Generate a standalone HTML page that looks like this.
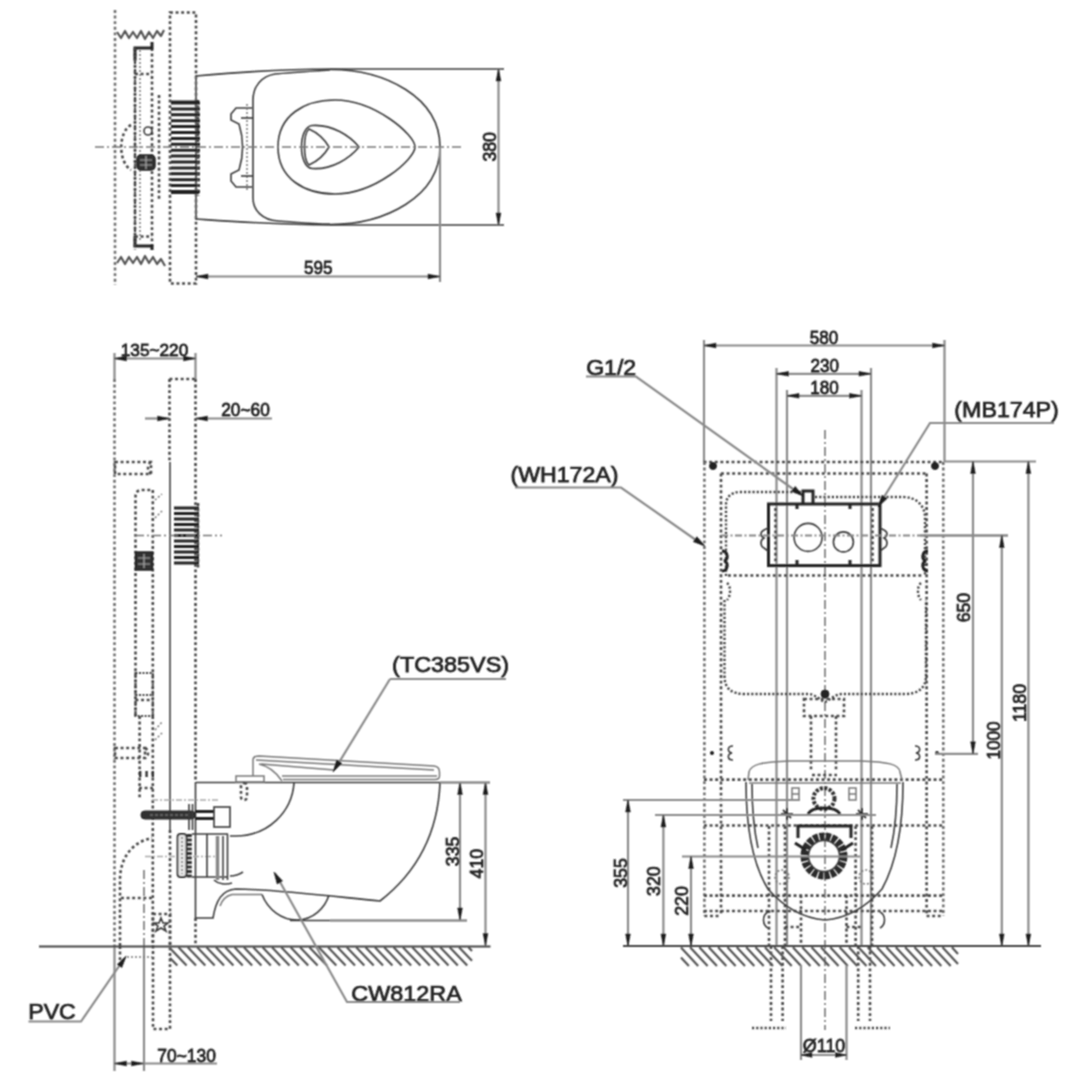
<!DOCTYPE html>
<html><head><meta charset="utf-8"><style>
html,body{margin:0;padding:0;background:#fff;}
svg{display:block;}
.k{fill:none;stroke:#3a3a3a;stroke-width:1.6;}
.k2{fill:none;stroke:#444;stroke-width:2;}
.kb{fill:#222;stroke:#222;stroke-width:1;}
.kb2{fill:#e8e8e8;stroke:#333;stroke-width:1.8;}
.sg{fill:none;stroke:#777;stroke-width:1.5;}
.blt{fill:#333;stroke:#222;stroke-width:1;}
.dk{fill:none;stroke:#333;stroke-width:5;stroke-dasharray:3 1.5;}
.dk2{fill:none;stroke:#444;stroke-width:2.2;stroke-dasharray:2 1.5;}
.dk3{fill:none;stroke:#333;stroke-width:1.8;}
.g3{fill:none;stroke:#888;stroke-width:3.5;}
.kw2{fill:none;stroke:#888;stroke-width:1.2;stroke-dasharray:3 2;}
.kb3{fill:none;stroke:#222;stroke-width:3;}
.g{fill:none;stroke:#8a8a8a;stroke-width:2.2;}
.g2{fill:none;stroke:#666;stroke-width:2;}
.dt{fill:none;stroke:#484848;stroke-width:2.6;stroke-dasharray:2.9 2.7;}
.dtL{fill:none;stroke:#707070;stroke-width:2.6;stroke-dasharray:2.9 2.7;}
.ctm{fill:none;stroke:#888;stroke-width:2;stroke-dasharray:7 2.5 2 2.5;}
.blk2{fill:#333;stroke:none;}
.zz{fill:none;stroke:#555;stroke-width:2.2;stroke-linejoin:round;}
.dt2{fill:none;stroke:#444;stroke-width:2.4;stroke-dasharray:2.2 2;}
.dtl{fill:none;stroke:#777;stroke-width:1.5;stroke-dasharray:2 2;}
.ct{fill:none;stroke:#777;stroke-width:1.6;stroke-dasharray:9 3 2 3;}
.ctl{fill:none;stroke:#aaa;stroke-width:1.3;stroke-dasharray:6 2 2 2;}
.gr{fill:none;stroke:#222;stroke-width:3;}
.h{fill:none;stroke:#555;stroke-width:2.2;}
.ar{fill:#1a1a1a;stroke:#1a1a1a;stroke-width:0.6;}
.ring{fill:none;stroke:#2a2a2a;stroke-width:8;stroke-dasharray:5 1.2;}
.blk{fill:#333;stroke:#222;stroke-width:1.5;}
.kw{fill:none;stroke:#aaa;stroke-width:1.2;}
.ring2{fill:none;stroke:#333;stroke-width:4;stroke-dasharray:3 1.5;}
.tb{font-family:"Liberation Sans",sans-serif;fill:#222;stroke:#222;stroke-width:0.75;}
.t{font-family:"Liberation Sans",sans-serif;fill:#222;stroke:#222;stroke-width:0.8;}
</style></head><body>
<svg width="1090" height="1090" viewBox="0 0 1090 1090">
<defs><filter id="bl" filterUnits="userSpaceOnUse" x="0" y="0" width="1090" height="1090"><feConvolveMatrix order="3" kernelMatrix="1 2 1 2 4 2 1 2 1" divisor="16.0" edgeMode="duplicate" preserveAlpha="false"/></filter></defs>
<rect width="1090" height="1090" fill="#fff"/>
<g filter="url(#bl)">
<line x1="115" y1="10" x2="115" y2="285" class="dtL"/>
<rect x="170" y="12.5" width="26" height="271" class="dt"/>
<line x1="196" y1="75" x2="196" y2="220" class="g2"/>
<path d="M135,48 L135,250" class="dt"/>
<path d="M152,48 L152,250" class="dt"/>
<path d="M159,95 L159,200" class="dt"/>
<path d="M135,60 L135,48 L152,48 L152,42" class="kb3"/>
<path d="M135,236 L135,246 L152,246 L152,250" class="kb3"/>
<line x1="135" y1="48" x2="135" y2="246" class="dk2"/>
<line x1="135" y1="236.5" x2="152" y2="236.5" class="dt"/>
<path d="M117,32 L121,38 L125,31 L129,38 L133,32 L137,38 L141,31 L145,39 L149,32 L153,38 L157,31 L161,36 L164,30" class="zz"/>
<path d="M117,263 L121,257 L125,264 L129,257 L133,263 L137,257 L141,264 L145,256 L149,263 L153,257 L157,264 L161,259 L165,266" class="zz"/>
<path d="M135,74 L152,74" class="dt"/>
<path d="M140,50 L140,240" class="dtl"/>
<path d="M131,125 C118,132 118,162 131,170" class="dt"/>
<circle cx="148" cy="131" r="4" class="k"/>
<rect x="137" y="155" width="18" height="15" rx="4" class="blk"/>
<path d="M140,160 L152,160 M140,165 L152,165 M146,156 L146,169" class="kw"/>
<path d="M171,103.0L200,103.0M171,108.9L200,108.9M171,114.8L200,114.8M171,120.7L200,120.7M171,126.6L200,126.6M171,132.5L200,132.5M171,138.4L200,138.4M171,144.3L200,144.3M171,150.2L200,150.2M171,156.1L200,156.1M171,162.0L200,162.0M171,167.9L200,167.9M171,173.8L200,173.8M171,179.7L200,179.7M171,185.6L200,185.6M171,191.5L200,191.5" class="gr"/>
<line x1="198" y1="100" x2="198" y2="196" class="dt"/>
<line x1="171" y1="102" x2="199" y2="102" class="kb3"/>
<line x1="171" y1="192.5" x2="199" y2="192.5" class="kb3"/>
<path d="M196,76 C240,72 280,69 330,69 L504,69" class="k"/>
<path d="M196,219 C240,222 280,225 330,225 L504,225" class="k"/>
<path d="M330,69.5 C385,69.5 440,97 440,147 C440,197 385,224.5 330,224.5" class="k"/>
<path d="M330,70 C300,72 285,73 275,74 C262,76 253,86 253,100 L253,198 C253,210 262,220 278,221 C295,222 310,224 330,224" class="k"/>
<path d="M278,147 C278,115 305,100 335,100 C375,100 415,135 415,147 C415,159 375,194 335,194 C305,194 278,179 278,147 Z" class="k"/>
<path d="M312,125.5 C332,124 350,136 359,147 C350,158 332,170 312,168.5 C298,167 298,127 312,125.5 Z" class="k"/>
<path d="M309,129 C318,133 325,140 329,147 C325,154 318,161 309,165 C303,160 303,134 309,129 Z" class="k"/>
<path d="M252,108 L236,108 L231,114 L231,120 L239,124 C244,140 244,154 239,170 L231,174 L231,181 L236,187 L252,187" class="k"/>
<line x1="247" y1="104" x2="247" y2="192" class="dtl"/>
<line x1="241" y1="118" x2="253" y2="118" class="k"/>
<line x1="241" y1="176" x2="253" y2="176" class="k"/>
<line x1="95" y1="147" x2="462" y2="147" class="ct"/>
<line x1="498.5" y1="69" x2="498.5" y2="225" class="g"/>
<path d="M498.5,69.0 L500.8,81.0 L496.2,81.0 Z" class="ar"/>
<path d="M498.5,225.0 L496.2,213.0 L500.8,213.0 Z" class="ar"/>
<text x="495.8" y="146.8" font-size="18" text-anchor="middle" class="t" transform="rotate(-90 495.8 146.8)" textLength="29.5" lengthAdjust="spacingAndGlyphs">380</text>
<line x1="440" y1="147" x2="440" y2="282" class="g"/>
<line x1="196" y1="276.5" x2="440" y2="276.5" class="g"/>
<path d="M196.0,276.5 L208.0,274.2 L208.0,278.8 Z" class="ar"/>
<path d="M440.0,276.5 L428.0,278.8 L428.0,274.2 Z" class="ar"/>
<text x="318.3" y="274.1" font-size="18" text-anchor="middle" class="t" textLength="28.5" lengthAdjust="spacingAndGlyphs">595</text>
<line x1="114.5" y1="353" x2="114.5" y2="379" class="g"/>
<line x1="114.5" y1="379" x2="114.5" y2="946" class="dtL"/>
<line x1="114.5" y1="946" x2="114.5" y2="1071" class="g"/>
<line x1="195.5" y1="353" x2="195.5" y2="379" class="g"/>
<line x1="195.5" y1="379" x2="195.5" y2="782" class="dt"/>
<line x1="195.5" y1="782" x2="195.5" y2="918" class="k"/>
<line x1="195.5" y1="918" x2="195.5" y2="946" class="dt"/>
<line x1="169.5" y1="379" x2="169.5" y2="462" class="dt"/>
<line x1="169.5" y1="379" x2="195.5" y2="379" class="dt"/>
<line x1="170" y1="462" x2="170" y2="830" class="g2"/>
<line x1="170" y1="830" x2="170" y2="946" class="dt"/>
<line x1="114.5" y1="358.5" x2="195.5" y2="358.5" class="g"/>
<path d="M114.5,358.5 L126.5,356.2 L126.5,360.8 Z" class="ar"/>
<path d="M195.5,358.5 L183.5,360.8 L183.5,356.2 Z" class="ar"/>
<text x="154.5" y="355.8" font-size="17" text-anchor="middle" class="t" textLength="67.5" lengthAdjust="spacingAndGlyphs">135~220</text>
<line x1="145" y1="418.5" x2="169.5" y2="418.5" class="g"/>
<path d="M169.5,418.5 L157.5,420.8 L157.5,416.2 Z" class="ar"/>
<line x1="195.5" y1="418.5" x2="272" y2="418.5" class="g"/>
<path d="M195.5,418.5 L207.5,416.2 L207.5,420.8 Z" class="ar"/>
<text x="245.5" y="416" font-size="18" text-anchor="middle" class="t" textLength="48.5" lengthAdjust="spacingAndGlyphs">20~60</text>
<rect x="115" y="462" width="36" height="12" class="dt"/>
<path d="M151,462 C147,465 147,471 151,474" class="dt"/>
<path d="M135.5,716 L135.5,497 C135.5,492 138,490 142,490 L152.8,490 L152.8,716" class="dt"/>
<path d="M139.6,716 L139.6,800 M152.8,716 L152.8,946" class="dt"/>
<rect x="135.5" y="552" width="17" height="18" class="blk"/>
<path d="M138,558 L150,558 M138,564 L150,564 M144,554 L144,568" class="kw"/>
<rect x="115" y="748" width="30" height="10" class="dt"/>
<path d="M145,748 C149,750 149,756 145,758" class="dt"/>
<rect x="135.5" y="673" width="17.3" height="43" class="dk2"/>
<line x1="135.5" y1="695" x2="152.8" y2="695" class="dk2"/>
<line x1="135.5" y1="700" x2="152.8" y2="700" class="dt"/>
<rect x="139" y="771" width="2.4" height="6" class="blk2"/>
<rect x="145.4" y="771" width="2.4" height="6" class="blk2"/>
<rect x="151.6" y="771" width="2.4" height="6" class="blk2"/>
<line x1="139" y1="788" x2="153" y2="788" class="dt"/>
<path d="M155,500 L162,494 M155,518 L163,510" class="dtl"/>
<path d="M155,730 L162,722 M155,740 L163,732" class="dtl"/>
<path d="M174,508.0L199,508.0M174,513.5L199,513.5M174,519.0L199,519.0M174,524.5L199,524.5M174,530.0L199,530.0M174,535.5L199,535.5M174,541.0L199,541.0M174,546.5L199,546.5M174,552.0L199,552.0M174,557.5L199,557.5M174,563.0L199,563.0" class="gr"/>
<line x1="198" y1="503" x2="198" y2="568" class="dt"/>
<line x1="135" y1="535.5" x2="222" y2="535.5" class="ct"/>
<path d="M120,946 L120,880 C120,858 132,842 152,838" class="dt"/>
<line x1="121" y1="898" x2="153" y2="898" class="dt"/>
<line x1="144" y1="870" x2="144" y2="946" class="ct"/>
<line x1="144" y1="946" x2="144" y2="1071" class="g"/>
<line x1="120" y1="946" x2="120" y2="960" class="dt"/>
<line x1="127" y1="957" x2="152" y2="957" class="dtl"/>
<rect x="153" y="914" width="17" height="115" class="dt"/>
<path d="M161,918 L163,923 L168,923 L164,926 L166,931 L161,928 L156,931 L158,926 L154,923 L159,923 Z" class="k"/>
<rect x="141" y="811" width="54" height="8" rx="3.7" class="blt"/>
<path d="M150,815 L190,815" class="kw2"/>
<path d="M195,811.5 L214,811.5 M195,818.5 L214,818.5" class="kb3"/>
<rect x="214" y="807" width="16" height="20" class="k"/>
<line x1="189" y1="804" x2="189" y2="830" class="k"/>
<line x1="192.5" y1="804" x2="192.5" y2="830" class="k"/>
<line x1="152" y1="800" x2="218" y2="800" class="ctl"/>
<line x1="145" y1="856.5" x2="215" y2="856.5" class="ctl"/>
<rect x="177.5" y="834" width="9" height="43" rx="3" class="kb2"/>
<line x1="182" y1="837" x2="182" y2="874" class="dtl"/>
<line x1="189.3" y1="834" x2="189.3" y2="878" class="dk"/>
<path d="M192,834 L228,834 M192,877 L228,877" class="k"/>
<line x1="227.5" y1="834" x2="227.5" y2="880" class="k"/>
<line x1="207" y1="834" x2="207" y2="877" class="k"/>
<line x1="217.5" y1="836" x2="217.5" y2="880" class="g3"/>
<line x1="223" y1="836" x2="223" y2="880" class="g2"/>
<path d="M214,880 C218,884 226,885 232,883" class="k"/>
<path d="M230,876 C236,876 240,874 243,872" class="k"/>
<path d="M196,782.5 L490,782.5" class="k"/>
<path d="M294,783 C292,812 268,836 236,836 L230,836" class="k"/>
<path d="M440,783 C438,830 420,870 380,901 C320,895 270,889 236,889 C222,890 216,900 213,918 L196,918" class="k"/>
<path d="M262,894.5 L232,894.5 C226,896 222,900 220,906" class="sg"/>
<path d="M262,894.5 C268,910 282,920 297,920 C313,920 325,908 329,895" class="k"/>
<path d="M290,920.5 L467,920.5" class="k"/>
<path d="M253,776 L253,760 C253,757 255,756 259,756 L434,766 C438,766.5 439.5,769 439.5,772 L439.5,776 C439.5,778 438,779.5 435,779.5 L283,779.5" class="sg"/>
<path d="M256,760 L434,770 M261,764 L334,770 M282,776 L437,776" class="sg"/>
<path d="M259,764 C268,766 276,772 282,781" class="sg"/>
<rect x="236" y="776" width="28" height="6" class="sg"/>
<rect x="241" y="783" width="6" height="17" rx="3" class="dt"/>
<line x1="460" y1="782.5" x2="460" y2="920" class="g"/>
<path d="M460.0,782.5 L462.3,794.5 L457.7,794.5 Z" class="ar"/>
<path d="M460.0,920.0 L457.7,908.0 L462.3,908.0 Z" class="ar"/>
<text x="458.6" y="851.4" font-size="18" text-anchor="middle" class="t" transform="rotate(-90 458.6 851.4)" textLength="29.5" lengthAdjust="spacingAndGlyphs">335</text>
<line x1="485.5" y1="782.5" x2="485.5" y2="945.5" class="g"/>
<path d="M485.5,782.5 L487.8,794.5 L483.2,794.5 Z" class="ar"/>
<path d="M485.5,945.5 L483.2,933.5 L487.8,933.5 Z" class="ar"/>
<text x="482.8" y="863.7" font-size="18" text-anchor="middle" class="t" transform="rotate(-90 482.8 863.7)" textLength="29.5" lengthAdjust="spacingAndGlyphs">410</text>
<line x1="440" y1="782.5" x2="490" y2="782.5" class="g"/>
<line x1="330" y1="920.5" x2="467" y2="920.5" class="g"/>
<line x1="39" y1="946.4" x2="490.5" y2="946.4" class="k2"/>
<path d="M170.0,957.9L177.3,965.5M170.0,948.2L186.6,965.5M178.5,947.3L196.0,965.5M187.8,947.3L205.3,965.5M197.2,947.3L214.7,965.5M206.5,947.3L224.0,965.5M215.9,947.3L233.4,965.5M225.2,947.3L242.7,965.5M234.6,947.3L252.1,965.5M243.9,947.3L261.4,965.5M253.3,947.3L270.8,965.5M262.6,947.3L280.1,965.5M272.0,947.3L289.5,965.5M281.3,947.3L298.8,965.5M290.7,947.3L308.2,965.5M300.1,947.3L317.6,965.5M309.4,947.3L326.9,965.5M318.8,947.3L336.3,965.5M328.1,947.3L345.6,965.5M337.5,947.3L355.0,965.5M346.8,947.3L364.3,965.5M356.2,947.3L373.7,965.5M365.5,947.3L383.0,965.5M374.9,947.3L392.4,965.5M384.2,947.3L401.7,965.5M393.6,947.3L411.1,965.5M402.9,947.3L420.4,965.5M412.3,947.3L429.8,965.5M421.6,947.3L439.1,965.5M431.0,947.3L448.5,965.5M440.3,947.3L457.8,965.5M449.7,947.3L467.2,965.5M459.0,947.3L472.0,960.8M468.4,947.3L472.0,951.1" class="h"/>
<text x="450.6" y="672.2" font-size="21.5" text-anchor="middle" class="tb" textLength="117" lengthAdjust="spacingAndGlyphs">(TC385VS)</text>
<path d="M390,679 L506,679" class="g"/>
<path d="M390,679 L335,769" class="g"/>
<path d="M333.0,772.0 L336.7,760.2 L341.8,763.3 Z" class="ar"/>
<text x="406.5" y="1000.6" font-size="21.5" text-anchor="middle" class="tb" textLength="110.5" lengthAdjust="spacingAndGlyphs">CW812RA</text>
<path d="M460,1002 L347,1002 L275,873" class="g"/>
<path d="M274.0,872.0 L282.5,881.0 L277.2,883.9 Z" class="ar"/>
<text x="52" y="1018.7" font-size="21.5" text-anchor="middle" class="tb" textLength="47.5" lengthAdjust="spacingAndGlyphs">PVC</text>
<path d="M28.5,1021.5 L81,1021.5 L125,957.5" class="g"/>
<path d="M126.2,956.0 L121.8,967.5 L117.2,964.4 Z" class="ar"/>
<line x1="114.5" y1="1063.5" x2="217" y2="1063.5" class="g"/>
<path d="M114.5,1063.5 L126.5,1061.2 L126.5,1065.8 Z" class="ar"/>
<path d="M143.5,1063.5 L131.5,1065.8 L131.5,1061.2 Z" class="ar"/>
<text x="186.6" y="1061.5" font-size="17.5" text-anchor="middle" class="t" textLength="58.5" lengthAdjust="spacingAndGlyphs">70~130</text>
<line x1="704" y1="340" x2="704" y2="462" class="g"/>
<line x1="944.5" y1="340" x2="944.5" y2="462" class="g"/>
<line x1="704" y1="345.5" x2="944.5" y2="345.5" class="g"/>
<path d="M704.0,345.5 L716.0,343.2 L716.0,347.8 Z" class="ar"/>
<path d="M944.5,345.5 L932.5,347.8 L932.5,343.2 Z" class="ar"/>
<text x="824" y="343.7" font-size="18" text-anchor="middle" class="t" textLength="28.5" lengthAdjust="spacingAndGlyphs">580</text>
<line x1="776.5" y1="368" x2="776.5" y2="946" class="g"/>
<line x1="871" y1="368" x2="871" y2="946" class="g"/>
<line x1="776.5" y1="373.8" x2="871" y2="373.8" class="g"/>
<path d="M776.5,373.8 L788.5,371.5 L788.5,376.1 Z" class="ar"/>
<path d="M871.0,373.8 L859.0,376.1 L859.0,371.5 Z" class="ar"/>
<text x="824.7" y="371.7" font-size="18" text-anchor="middle" class="t" textLength="28.5" lengthAdjust="spacingAndGlyphs">230</text>
<line x1="787" y1="390" x2="787" y2="946" class="g"/>
<line x1="861.5" y1="390" x2="861.5" y2="946" class="g"/>
<line x1="787" y1="395.8" x2="861.5" y2="395.8" class="g"/>
<path d="M787.0,395.8 L799.0,393.5 L799.0,398.1 Z" class="ar"/>
<path d="M861.5,395.8 L849.5,398.1 L849.5,393.5 Z" class="ar"/>
<text x="824.5" y="393.8" font-size="18" text-anchor="middle" class="t" textLength="28.5" lengthAdjust="spacingAndGlyphs">180</text>
<line x1="825" y1="430" x2="825" y2="1030" class="ct"/>
<line x1="703.6" y1="462" x2="943" y2="462" class="dt"/>
<line x1="721" y1="473.5" x2="927" y2="473.5" class="dt"/>
<line x1="704.4" y1="462" x2="704.4" y2="916" class="dtL"/>
<line x1="721" y1="473.5" x2="721" y2="916" class="dt"/>
<line x1="926.6" y1="473.5" x2="926.6" y2="916" class="dt"/>
<line x1="943.3" y1="462" x2="943.3" y2="916" class="dtL"/>
<circle cx="713" cy="466" r="3.5" class="kb"/>
<circle cx="935" cy="466" r="3.5" class="kb"/>
<path d="M704.4,916 L721,916" class="dt"/>
<path d="M926.6,916 L943.3,916" class="dt"/>
<path d="M726,576 L726,505 C726,497 731,492 740,492 L802,492 M815,497 L903,497 C916,497 925,505 925,518 L925,576" class="dt2"/>
<path d="M727,583 C731,586 731,596 727,600 M921,583 C917,586 917,596 921,600" class="dt2"/>
<path d="M724.5,600 L724.5,676 C724.5,688 731,694 745,694 L808,694 C815,694 820,700 825,702 C830,700 835,694 842,694 L905,694 C918,694 926,688 926,676 L926,600" class="dt2"/>
<path d="M722,551 C728,551 729,560 724,561 C729,562 728,571 722,571 M928,551 C922,551 921,560 926,561 C921,562 922,571 928,571" class="kb3"/>
<line x1="728" y1="575.5" x2="922" y2="575.5" class="dt"/>
<rect x="768.5" y="504" width="111.5" height="61.6" class="kb3"/>
<line x1="775.5" y1="508" x2="775.5" y2="562" class="dt"/>
<line x1="872.5" y1="508" x2="872.5" y2="562" class="dt"/>
<circle cx="808.1" cy="537.4" r="14" class="k"/>
<circle cx="843.4" cy="541.9" r="10" class="k"/>
<path d="M768,528 L764,530 C760,532 760,536 764,538 C760,540 760,546 764,548 L768,551 M880,528 L884,530 C888,532 888,536 884,538 C888,540 888,546 884,548 L880,551" class="k"/>
<path d="M803,504 L803,491 L813,491 L813,504" class="kb3"/>
<path d="M797,504 L797,509 M850,504 L850,509 M797,565 L797,560 M850,565 L850,560" class="kb3"/>
<line x1="721" y1="535.5" x2="925" y2="535.5" class="ctm"/>
<line x1="925" y1="535.5" x2="1008" y2="535.5" class="g"/>
<rect x="804" y="699" width="40" height="17" class="dt"/>
<circle cx="825" cy="694" r="4" class="kb"/>
<line x1="811" y1="716" x2="811" y2="770" class="dt"/>
<line x1="836" y1="716" x2="836" y2="770" class="dt"/>
<path d="M733,746 C727,746 727,752 732,753 C727,754 727,760 733,760 M915,746 C921,746 921,752 916,753 C921,754 921,760 915,760" class="k"/>
<circle cx="712" cy="753" r="1.6" class="kb"/>
<circle cx="937" cy="753" r="1.6" class="kb"/>
<line x1="935" y1="753.8" x2="978" y2="753.8" class="g"/>
<line x1="704" y1="779.6" x2="943" y2="779.6" class="dt"/>
<line x1="704" y1="825.5" x2="943" y2="825.5" class="dt"/>
<line x1="704" y1="895.6" x2="943" y2="895.6" class="dt"/>
<line x1="704" y1="911" x2="943" y2="911" class="dt"/>
<line x1="769" y1="826" x2="769" y2="946" class="dt"/>
<line x1="785" y1="826" x2="785" y2="946" class="dt"/>
<line x1="855.6" y1="826" x2="855.6" y2="946" class="dt"/>
<line x1="872" y1="826" x2="872" y2="946" class="dt"/>
<line x1="771" y1="946" x2="771" y2="1021" class="dt"/>
<line x1="782.6" y1="946" x2="782.6" y2="1021" class="dt"/>
<line x1="858.2" y1="946" x2="858.2" y2="1021" class="dt"/>
<line x1="870" y1="946" x2="870" y2="1021" class="dt"/>
<path d="M752,1028 L786,1028 M855,1028 L890,1028" class="dt2"/>
<path d="M768,912 C762,915 762,925 768,928 M880,912 C886,915 886,925 880,928" class="k"/>
<line x1="785" y1="927" x2="801" y2="927" class="dt"/>
<line x1="846.5" y1="927" x2="862" y2="927" class="dt"/>
<path d="M748,780 L749,772 C751,764 762,762 790,761 L860,761 C888,762 899,764 900,772 L902,780" class="sg"/>
<path d="M746,782 C746,820 750,860 768,889 C782,905 800,918 825,920 C850,918 868,905 882,889 C898,860 903,820 903,782" class="k"/>
<path d="M752,784 C752,810 754,830 758,848 M897,784 C897,810 895,830 891,848" class="k"/>
<line x1="749" y1="783" x2="901" y2="783" class="sg"/>
<circle cx="824" cy="856" r="19.5" class="ring"/>
<path d="M795,843 L806,850 M853,843 L842,850" class="kb3"/>
<circle cx="824" cy="856" r="15.5" class="k"/>
<circle cx="824" cy="798.6" r="10.5" class="ring2"/>
<path d="M808,814 C812,806 836,806 840,814" class="kb3"/>
<line x1="812" y1="775" x2="837" y2="775" class="dt"/>
<path d="M798,838 L798,826 L851,826 L851,838" class="kb3"/>
<circle cx="782" cy="877" r="7" class="dtl"/>
<circle cx="866" cy="877" r="7" class="dtl"/>
<path d="M792,788 L792,800 L799,800 L799,788 Z M849,788 L849,800 L856,800 L856,788 Z M792,794 L799,794 M849,794 L856,794" class="sg"/>
<path d="M781,814 L793,814 M787,808 L787,820 M783,810 L791,818 M856,814 L868,814 M862,808 L862,820 M858,810 L866,818" class="dk3"/>
<line x1="623" y1="800" x2="800" y2="800" class="g"/>
<line x1="655" y1="815" x2="876" y2="815" class="g"/>
<line x1="682" y1="856.5" x2="860" y2="856.5" class="g"/>
<line x1="628" y1="800" x2="628" y2="946" class="g"/>
<path d="M628.0,800.0 L630.3,812.0 L625.7,812.0 Z" class="ar"/>
<path d="M628.0,946.0 L625.7,934.0 L630.3,934.0 Z" class="ar"/>
<text x="626.6" y="873" font-size="18" text-anchor="middle" class="t" transform="rotate(-90 626.6 873)" textLength="29.5" lengthAdjust="spacingAndGlyphs">355</text>
<line x1="663.4" y1="815" x2="663.4" y2="946" class="g"/>
<path d="M663.4,815.0 L665.7,827.0 L661.1,827.0 Z" class="ar"/>
<path d="M663.4,946.0 L661.1,934.0 L665.7,934.0 Z" class="ar"/>
<text x="660.5" y="881.2" font-size="18" text-anchor="middle" class="t" transform="rotate(-90 660.5 881.2)" textLength="29.5" lengthAdjust="spacingAndGlyphs">320</text>
<line x1="691" y1="856.5" x2="691" y2="946" class="g"/>
<path d="M691.0,856.5 L693.3,868.5 L688.7,868.5 Z" class="ar"/>
<path d="M691.0,946.0 L688.7,934.0 L693.3,934.0 Z" class="ar"/>
<text x="688" y="901" font-size="18" text-anchor="middle" class="t" transform="rotate(-90 688 901)" textLength="29.5" lengthAdjust="spacingAndGlyphs">220</text>
<line x1="945" y1="461.5" x2="1036" y2="461.5" class="g"/>
<line x1="920" y1="535.5" x2="1008" y2="535.5" class="g"/>
<line x1="973" y1="461.5" x2="973" y2="753.8" class="g"/>
<path d="M973.0,461.5 L975.3,473.5 L970.7,473.5 Z" class="ar"/>
<path d="M973.0,753.8 L970.7,741.8 L975.3,741.8 Z" class="ar"/>
<text x="970.3" y="607.6" font-size="18" text-anchor="middle" class="t" transform="rotate(-90 970.3 607.6)" textLength="29.5" lengthAdjust="spacingAndGlyphs">650</text>
<line x1="1001.8" y1="535.5" x2="1001.8" y2="946" class="g"/>
<path d="M1001.8,535.5 L1004.1,547.5 L999.5,547.5 Z" class="ar"/>
<path d="M1001.8,946.0 L999.5,934.0 L1004.1,934.0 Z" class="ar"/>
<text x="999.6" y="740.6" font-size="18" text-anchor="middle" class="t" transform="rotate(-90 999.6 740.6)" textLength="38" lengthAdjust="spacingAndGlyphs">1000</text>
<line x1="1028.4" y1="461.5" x2="1028.4" y2="946" class="g"/>
<path d="M1028.4,461.5 L1030.7,473.5 L1026.1,473.5 Z" class="ar"/>
<path d="M1028.4,946.0 L1026.1,934.0 L1030.7,934.0 Z" class="ar"/>
<text x="1026.2" y="703" font-size="18" text-anchor="middle" class="t" transform="rotate(-90 1026.2 703)" textLength="38" lengthAdjust="spacingAndGlyphs">1180</text>
<line x1="623" y1="946" x2="1041" y2="946" class="k2"/>
<path d="M681.0,957.6L688.9,966.0M681.0,947.6L698.2,966.0M690.1,947.3L707.6,966.0M699.4,947.3L716.9,966.0M708.8,947.3L726.3,966.0M718.1,947.3L735.6,966.0M727.5,947.3L745.0,966.0M736.8,947.3L754.3,966.0M746.2,947.3L763.7,966.0M755.5,947.3L773.0,966.0M764.9,947.3L782.4,966.0M774.2,947.3L791.7,966.0M783.6,947.3L801.1,966.0M792.9,947.3L810.4,966.0M802.3,947.3L819.8,966.0M811.6,947.3L829.1,966.0M821.0,947.3L838.5,966.0M830.3,947.3L847.8,966.0M839.7,947.3L857.2,966.0M849.0,947.3L866.5,966.0M858.4,947.3L875.9,966.0M867.7,947.3L885.2,966.0M877.1,947.3L894.6,966.0M886.4,947.3L903.9,966.0M895.8,947.3L913.3,966.0M905.1,947.3L922.6,966.0M914.5,947.3L932.0,966.0M923.8,947.3L941.3,966.0M933.2,947.3L950.7,966.0M942.5,947.3L958.0,963.9M951.9,947.3L958.0,953.9" class="h"/>
<line x1="801" y1="965" x2="801" y2="1060" class="g"/>
<line x1="846.5" y1="965" x2="846.5" y2="1060" class="g"/>
<line x1="801" y1="895" x2="801" y2="946" class="dt"/>
<line x1="846.5" y1="895" x2="846.5" y2="946" class="dt"/>
<line x1="801" y1="1055" x2="846.5" y2="1055" class="g"/>
<path d="M801.0,1055.0 L812.0,1052.7 L812.0,1057.3 Z" class="ar"/>
<path d="M846.5,1055.0 L835.5,1057.3 L835.5,1052.7 Z" class="ar"/>
<text x="824.1" y="1051.8" font-size="18" text-anchor="middle" class="t" textLength="42.5" lengthAdjust="spacingAndGlyphs">&#216;110</text>
<text x="611.2" y="374.5" font-size="21.5" text-anchor="middle" class="tb" textLength="50" lengthAdjust="spacingAndGlyphs">G1/2</text>
<path d="M586,376.5 L636,376.5 L800,494" class="g"/>
<path d="M803.0,496.0 L791.6,491.2 L795.2,486.4 Z" class="ar"/>
<text x="1006.6" y="417" font-size="21.5" text-anchor="middle" class="tb" textLength="104.5" lengthAdjust="spacingAndGlyphs">(MB174P)</text>
<path d="M1054,423 L930,423 L879,505" class="g"/>
<path d="M878.0,507.0 L882.0,495.3 L887.0,498.6 Z" class="ar"/>
<text x="564.5" y="482" font-size="21.5" text-anchor="middle" class="tb" textLength="108" lengthAdjust="spacingAndGlyphs">(WH172A)</text>
<path d="M515,487.5 L621,487.5 L703,545" class="g"/>
<path d="M705.0,546.0 L693.4,541.7 L696.8,536.7 Z" class="ar"/>
</g>
</svg>
</body></html>
